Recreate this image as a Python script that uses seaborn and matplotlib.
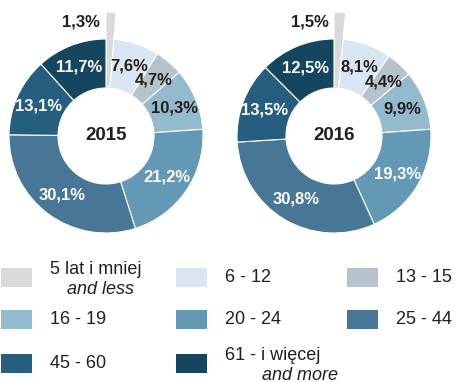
import matplotlib
matplotlib.use("Agg")
import matplotlib.pyplot as plt
import numpy as np
import seaborn as sns
from matplotlib.patches import Rectangle

# Age groups (Polish label, English sub-label)
groups_pl = ["5 lat i mniej", "6 - 12", "13 - 15", "16 - 19", "20 - 24",
             "25 - 44", "45 - 60", "61 - i więcej"]
groups_en = ["and less", "", "", "", "", "", "", "and more"]

years = ["2015", "2016"]
share_2015 = [1.3, 7.6, 4.7, 10.3, 21.2, 30.1, 13.1, 11.7]
share_2016 = [1.5, 8.1, 4.4, 9.9, 19.3, 30.8, 13.5, 12.5]

palette = sns.color_palette(["#d9dadb", "#d9e6f1", "#b6c3cc", "#93bacd",
                             "#6399b5", "#477696", "#255e7e", "#14465f"])
label_dark = "#231f20"
white_text = [False, False, False, False, True, True, True, True]

sns.set_theme(style="white")
plt.rcParams["font.family"] = ["Liberation Sans", "DejaVu Sans"]

W, H = 455, 382
fig = plt.figure(figsize=(W / 100, H / 100), dpi=100)
ax = fig.add_axes([0, 0, 1, 1])
ax.set_xlim(0, W)
ax.set_ylim(0, H)
ax.axis("off")

R_OUT = 97
R_IN = 48
R_SPIKE = 124


def fmt(v):
    return f"{v:.1f}".replace(".", ",") + "%"


def donut(values, cx, cy, year):
    wedges, _ = ax.pie(values, colors=palette, startangle=90, counterclock=False,
                       radius=R_OUT, center=(cx, cy),
                       wedgeprops=dict(width=R_OUT - R_IN, edgecolor="white",
                                       linewidth=0.8),
                       frame=True)
    # the smallest group is drawn as a longer spike
    wedges[0].set_radius(R_SPIKE)
    wedges[0].set_width(R_SPIKE - R_IN)
    total = sum(values)
    acc = 0.0
    for i, v in enumerate(values):
        mid = 90 - 360 * (acc + v / 2) / total
        acc += v
        a = np.deg2rad(mid)
        if i == 0:
            x = cx + (R_SPIKE - 8) * np.cos(a) - 11
            y = cy + (R_SPIKE - 8) * np.sin(a) - 2
            ax.text(x, y, fmt(v), ha="right", va="center", fontsize=12,
                    fontweight="bold", color=label_dark)
            continue
        rr = 0.76 * R_OUT
        x = cx + rr * np.cos(a)
        y = cy + rr * np.sin(a)
        ax.text(x, y, fmt(v), ha="center", va="center", fontsize=12,
                fontweight="bold",
                color="white" if white_text[i] else label_dark)
    ax.text(cx, cy, year, ha="center", va="center", fontsize=13.5,
            fontweight="bold", color=label_dark)


donut(share_2015, 106, H - 136, years[0])
donut(share_2016, 334, H - 136, years[1])
ax.set_xlim(0, W)
ax.set_ylim(0, H)
ax.set_aspect("equal")

# legend: three columns, row-major order
col_x = [1, 176, 347]
row_y = [277, 319, 363]
text_dx = 49
for i, (pl, en) in enumerate(zip(groups_pl, groups_en)):
    r, c = divmod(i, 3)
    px, py = col_x[c], H - row_y[r]
    ax.add_patch(Rectangle((px, py - 9.5), 31, 19, facecolor=palette[i],
                           edgecolor="none"))
    if en:
        ax.text(px + text_dx, py + 8, pl, ha="left", va="center",
                fontsize=13, color=label_dark)
        ax.text(px + text_dx + 17 + (20 if i == 7 else 0), py - 12, en,
                ha="left", va="center", fontsize=13, style="italic",
                color=label_dark)
    else:
        ax.text(px + text_dx, py, pl, ha="left", va="center",
                fontsize=13, color=label_dark)

fig.savefig("out.png", dpi=100)
